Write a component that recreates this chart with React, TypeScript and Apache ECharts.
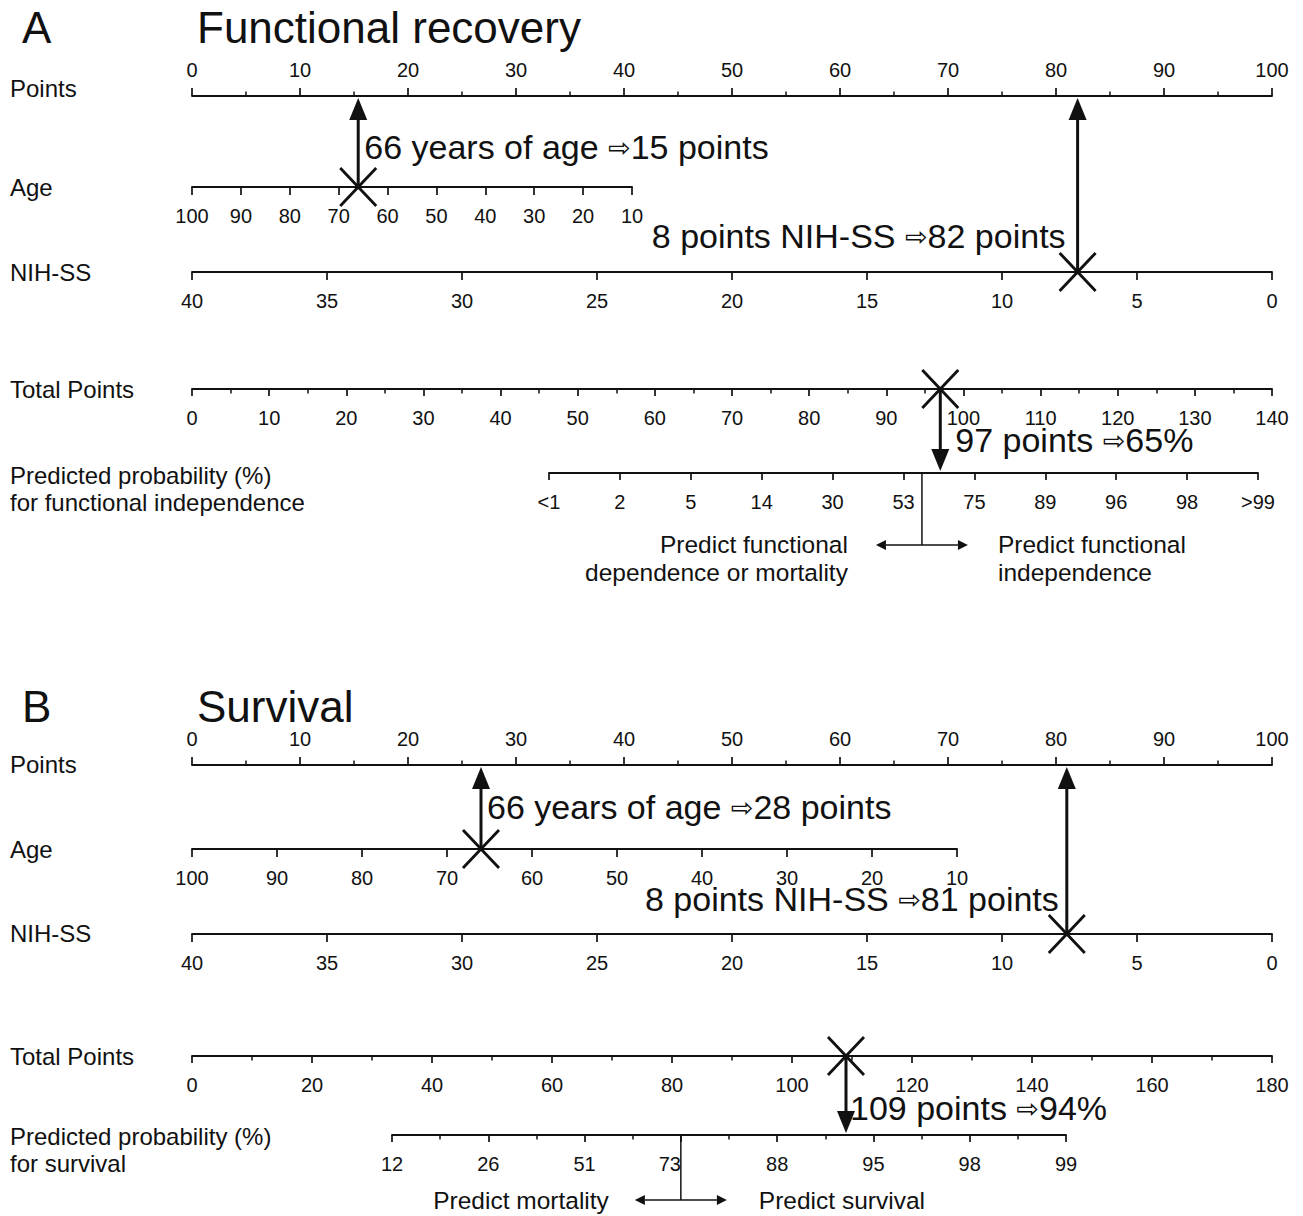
import React, { useEffect, useRef } from "react";
import * as echarts from "echarts";

// ---- Nomogram scales ----
const pointsRange = [0, 100];
const ageRange = [10, 100];
const nihRange = [0, 40];
const totalMaxA = 140;
const totalMaxB = 180;
const probLabelsA = ["<1", "2", "5", "14", "30", "53", "75", "89", "96", "98", ">99"];
const probLabelsB = ["12", "26", "51", "73", "88", "95", "98", "99"];

// ---- Worked example (66-year-old patient, NIH-SS 8) ----
const exampleAge = 66;
const exampleNih = 8;
const agePointsA = 15;
const nihPointsA = 82;
const totalA = 97;
const probA = 65;
const agePointsB = 28;
const nihPointsB = 81;
const totalB = 109;
const probB = 94;

// Position (in tick index units) of the decision threshold on each probability scale
const decisionIndexA = 5.26;
const decisionIndexB = 3;

const INK = "#111111";
const FONT = '"Liberation Sans", Arial, Helvetica, sans-serif';
const X0 = 192;
const X1 = 1272;

// Row baselines of each scale
const rowsA = { points: 96, age: 187, nih: 272, total: 389, prob: 473 };
const rowsB = { points: 765, age: 849, nih: 934, total: 1056, prob: 1135 };

function bandGrid(y: number, x0: number, x1: number, pos: "top" | "bottom") {
  return {
    left: x0,
    width: x1 - x0,
    top: pos === "top" ? y : y - 1,
    height: 1,
    containLabel: false,
    outerBoundsMode: "none",
  };
}

function scaleAxis(
  gridIndex: number,
  o: {
    pos: "top" | "bottom";
    min: number;
    max: number;
    interval: number;
    inverse?: boolean;
    minor?: boolean;
    tickLen?: number;
    labels?: string[];
    nudged?: string;
  }
) {
  return {
    gridIndex,
    type: "value",
    position: o.pos,
    min: o.min,
    max: o.max,
    interval: o.interval,
    inverse: !!o.inverse,
    axisLine: { show: true, onZero: false, lineStyle: { color: INK, width: 1.8 } },
    axisTick: { show: true, inside: false, length: o.tickLen ?? 8, lineStyle: { color: INK, width: 1.7 } },
    minorTick: { show: !!o.minor, splitNumber: 2, length: 4.5, lineStyle: { color: INK, width: 1.5 } },
    splitLine: { show: false },
    minorSplitLine: { show: false },
    axisLabel: {
      show: true,
      color: INK,
      fontSize: 20,
      fontFamily: FONT,
      margin: o.pos === "top" ? 16 : 19,
      formatter: o.labels
        ? (v: number) => {
            const t = o.labels![Math.round(v)] ?? "";
            return t === o.nudged ? `{s|${t}}` : t;
          }
        : (v: number) => String(v),
      rich: {
        s: { fontSize: 20, fontFamily: FONT, color: INK, padding: [0, 22, 0, 0] },
      },
    },
  };
}

function hiddenY(gridIndex: number) {
  return { gridIndex, type: "value", min: 0, max: 1, show: false };
}

const cross = "path://M0,0L10,10M10,0L0,10";

function crossMark(xAxisIndex: number, yAxisIndex: number, value: number) {
  return {
    type: "scatter",
    xAxisIndex,
    yAxisIndex,
    silent: true,
    symbol: cross,
    symbolSize: [36, 38],
    itemStyle: { color: "none", borderColor: INK, borderWidth: 3, opacity: 1 },
    data: [[value, 0]],
    z: 5,
  };
}

function arrow(x: number, yFrom: number, yTo: number) {
  const dir = yTo < yFrom ? -1 : 1;
  const headLen = 22;
  const headHalf = 9;
  const base = yTo - dir * headLen;
  return [
    { type: "line", shape: { x1: x, y1: yFrom, x2: x, y2: base }, style: { stroke: INK, lineWidth: 3 }, z: 10 },
    {
      type: "polygon",
      shape: { points: [[x, yTo], [x - headHalf, base], [x + headHalf, base]] },
      style: { fill: INK },
      z: 10,
    },
  ];
}

function splitArrows(x: number, yTop: number, yMid: number, half: number) {
  const hl = 10;
  const hw = 5;
  return [
    { type: "line", shape: { x1: x, y1: yTop, x2: x, y2: yMid }, style: { stroke: INK, lineWidth: 1.5 } },
    { type: "line", shape: { x1: x - half + hl, y1: yMid, x2: x + half - hl, y2: yMid }, style: { stroke: INK, lineWidth: 1.5 } },
    { type: "polygon", shape: { points: [[x - half, yMid], [x - half + hl, yMid - hw], [x - half + hl, yMid + hw]] }, style: { fill: INK } },
    { type: "polygon", shape: { points: [[x + half, yMid], [x + half - hl, yMid - hw], [x + half - hl, yMid + hw]] }, style: { fill: INK } },
  ];
}

function label(text: string, x: number, y: number, size: number, align: string = "left", lineHeight?: number) {
  return {
    type: "text",
    x,
    y,
    style: {
      text,
      fill: INK,
      fontSize: size,
      fontFamily: FONT,
      align,
      textAlign: align,
      verticalAlign: "middle",
      textVerticalAlign: "middle",
      lineHeight: lineHeight ?? Math.round(size * 1.2),
    },
    z: 12,
  };
}

function note(text: string, x: number, y: number, align: string = "left") {
  return {
    type: "text",
    x,
    y,
    style: {
      text,
      fill: INK,
      fontSize: 34,
      fontFamily: FONT,
      align,
      textAlign: align,
      verticalAlign: "middle",
      textVerticalAlign: "middle",
      rich: {
        a: { fontSize: 27, fontFamily: '"DejaVu Sans", sans-serif', fill: INK, padding: [0, 0, 0, 0] },
      },
    },
    z: 12,
  };
}

export default function App() {
  const ref = useRef<HTMLDivElement>(null);

  useEffect(() => {
    if (!ref.current) return;
    const chart = echarts.init(ref.current, undefined, { renderer: "svg" });

    const grid = [
      bandGrid(rowsA.points, X0, X1, "top"),
      bandGrid(rowsA.age, X0, 632, "bottom"),
      bandGrid(rowsA.nih, X0, X1, "bottom"),
      bandGrid(rowsA.total, X0, X1, "bottom"),
      bandGrid(rowsA.prob, 549, 1258, "bottom"),
      bandGrid(rowsB.points, X0, X1, "top"),
      bandGrid(rowsB.age, X0, 957, "bottom"),
      bandGrid(rowsB.nih, X0, X1, "bottom"),
      bandGrid(rowsB.total, X0, X1, "bottom"),
      bandGrid(rowsB.prob, 392, 1066, "bottom"),
    ];

    const xAxis = [
      scaleAxis(0, { pos: "top", min: pointsRange[0], max: pointsRange[1], interval: 10, minor: true }),
      scaleAxis(1, { pos: "bottom", min: ageRange[0], max: ageRange[1], interval: 10, inverse: true }),
      scaleAxis(2, { pos: "bottom", min: nihRange[0], max: nihRange[1], interval: 5, inverse: true }),
      scaleAxis(3, { pos: "bottom", min: 0, max: totalMaxA, interval: 10, minor: true, tickLen: 7 }),
      scaleAxis(4, { pos: "bottom", min: 0, max: probLabelsA.length - 1, interval: 1, labels: probLabelsA, tickLen: 7 }),
      scaleAxis(5, { pos: "top", min: pointsRange[0], max: pointsRange[1], interval: 10, minor: true }),
      scaleAxis(6, { pos: "bottom", min: ageRange[0], max: ageRange[1], interval: 10, inverse: true }),
      scaleAxis(7, { pos: "bottom", min: nihRange[0], max: nihRange[1], interval: 5, inverse: true }),
      scaleAxis(8, { pos: "bottom", min: 0, max: totalMaxB, interval: 20, minor: true, tickLen: 7 }),
      scaleAxis(9, {
        pos: "bottom",
        min: 0,
        max: probLabelsB.length - 1,
        interval: 1,
        labels: probLabelsB,
        minor: true,
        tickLen: 7,
        nudged: probLabelsB[decisionIndexB],
      }),
      // points scale laid over the NIH-SS rows
      { gridIndex: 2, type: "value", min: pointsRange[0], max: pointsRange[1], show: false },
      { gridIndex: 7, type: "value", min: pointsRange[0], max: pointsRange[1], show: false },
    ];

    const yAxis = grid.map((_, i) => hiddenY(i));

    const series = [
      crossMark(1, 1, exampleAge),
      crossMark(10, 2, nihPointsA),
      crossMark(3, 3, totalA),
      crossMark(6, 6, exampleAge),
      crossMark(11, 7, nihPointsB),
      crossMark(8, 8, totalB),
    ];

    chart.setOption({ animation: false, backgroundColor: "#ffffff", grid, xAxis, yAxis, series });

    const px = (axis: number, v: number) => chart.convertToPixel({ xAxisIndex: axis }, v) as number;

    const ageXA = px(1, exampleAge);
    const nihXA = px(10, nihPointsA);
    const totXA = px(3, totalA);
    const cutXA = px(4, decisionIndexA);
    const ageXB = px(6, exampleAge);
    const nihXB = px(11, nihPointsB);
    const totXB = px(8, totalB);
    const cutXB = px(9, decisionIndexB);

    const arrowChar = "{a|⇨}";
    const rowFont = 24;

    const elements: any[] = [
      // Panel A
      label("A", 22, 27, 44),
      label("Functional recovery", 197, 27, 44),
      label("Points", 10, 88, rowFont),
      label("Age", 10, 187, rowFont),
      label("NIH-SS", 10, 272, rowFont),
      label("Total Points", 10, 389, rowFont),
      label("Predicted probability (%)\nfor functional independence", 10, 489, rowFont, "left", 27),
      ...arrow(ageXA, rowsA.age, rowsA.points + 2),
      ...arrow(nihXA, rowsA.nih, rowsA.points + 2),
      ...arrow(totXA, rowsA.total, rowsA.prob - 2),
      note(`${exampleAge} years of age ${arrowChar}${agePointsA} points`, ageXA + 6, 147),
      note(`${exampleNih} points NIH-SS ${arrowChar}${nihPointsA} points`, nihXA - 12, 236, "right"),
      note(`${totalA} points ${arrowChar}${probA}%`, totXA + 15, 440),
      ...splitArrows(cutXA, rowsA.prob, 545, 46),
      label("Predict functional\ndependence or mortality", cutXA - 74, 558, 24.5, "right", 28),
      label("Predict functional\nindependence", cutXA + 76, 558, 24.5, "left", 28),

      // Panel B
      label("B", 22, 706, 44),
      label("Survival", 197, 706, 44),
      label("Points", 10, 764, rowFont),
      label("Age", 10, 849, rowFont),
      label("NIH-SS", 10, 933, rowFont),
      label("Total Points", 10, 1056, rowFont),
      label("Predicted probability (%)\nfor survival", 10, 1150, rowFont, "left", 27),
      ...arrow(ageXB, rowsB.age, rowsB.points + 2),
      ...arrow(nihXB, rowsB.nih, rowsB.points + 2),
      ...arrow(totXB, rowsB.total, rowsB.prob - 2),
      note(`${exampleAge} years of age ${arrowChar}${agePointsB} points`, ageXB + 6, 807),
      note(`${exampleNih} points NIH-SS ${arrowChar}${nihPointsB} points`, nihXB - 8, 899, "right"),
      note(`${totalB} points ${arrowChar}${probB}%`, totXB + 4, 1108),
      ...splitArrows(cutXB, rowsB.prob, 1200, 46),
      label("Predict mortality", cutXB - 72, 1200, 24.5, "right"),
      label("Predict survival", cutXB + 78, 1200, 24.5, "left"),
    ];

    chart.setOption({ graphic: { elements } });

    return () => chart.dispose();
  }, []);

  return (
    <div
      ref={ref}
      style={{ position: "absolute", left: 0, top: 0, width: 1303, height: 1216, background: "#fff" }}
    />
  );
}
